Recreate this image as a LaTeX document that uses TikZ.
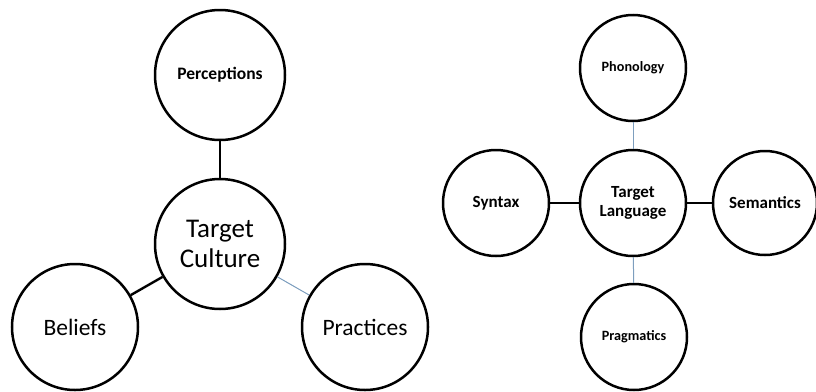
\documentclass[tikz,border=0pt]{standalone}
\usepackage{fontspec}
\setmainfont{Carlito}
\definecolor{linkblue}{RGB}{125,158,190}
\tikzset{
  bubble/.style={circle, draw=black, line width=2.5pt, fill=white, inner sep=0pt, align=center},
  thicklink/.style={draw=black, line width=2.4pt},
  thinlink/.style={draw=linkblue, line width=1pt},
  bigtxt/.style={font=\fontsize{23.5}{28}\selectfont},
  boldmid/.style={font=\bfseries\fontsize{17}{19.5}\selectfont},
  boldsmall/.style={font=\bfseries\fontsize{14.2}{17}\selectfont}
}
\begin{document}
\begin{tikzpicture}[x=1pt,y=-1pt]
\useasboundingbox (0,0) rectangle (816,391);
% left diagram
\node[bubble, minimum size=130pt, font=\bfseries\fontsize{17.5}{21}\selectfont] (perc) at (220,75) {Perceptions};
\node[bubble, minimum size=130pt, font=\fontsize{27}{30}\selectfont] (tc) at (220,244) {Target\\Culture};
\node[bubble, minimum size=126pt, bigtxt] (bel) at (75,327) {Beliefs};
\node[bubble, minimum size=126pt, bigtxt] (prac) at (365,327) {Practices};
\draw[thicklink] (perc) -- (tc);
\draw[thicklink] (bel) -- (tc);
\draw[thinlink] (prac) -- (tc);
% right diagram
\node[bubble, minimum size=106pt, boldsmall] (phon) at (633,68) {Phonology};
\node[bubble, minimum size=106pt, boldmid] (tl) at (633,203) {Target\\Language};
\node[bubble, minimum size=106pt, boldmid] (syn) at (496,203) {Syntax};
\node[bubble, minimum size=104pt, boldmid] (sem) at (765,203) {Semantics};
\node[bubble, minimum size=106pt, boldsmall] (prag) at (634,337) {Pragmatics};
\draw[thinlink] (phon) -- (tl);
\draw[thinlink] (prag) -- (tl);
\draw[thicklink] (syn) -- (tl);
\draw[thicklink] (sem) -- (tl);
\end{tikzpicture}
\end{document}
